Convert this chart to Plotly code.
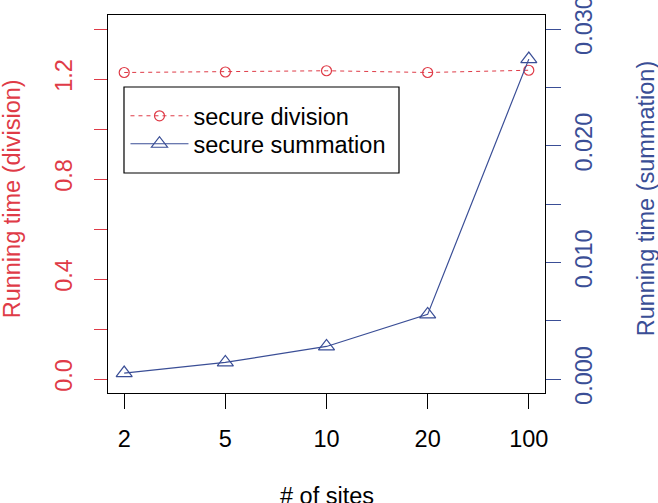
import plotly.graph_objects as go

sites = ["2", "5", "10", "20", "100"]
division_time = [1.226, 1.228, 1.233, 1.226, 1.235]
summation_time = [0.00051, 0.00142, 0.00279, 0.00554, 0.02742]

x_title = "# of sites"
y_title = "Running time (division)"
y2_title = "Running time (summation)"

RED = "#DF3B47"
BLUE = "#3A4E96"
FONT = "Liberation Sans, Arial, Helvetica, sans-serif"
FS = 23.5

fig = go.Figure()
fig.add_trace(go.Scatter(
    x=sites, y=division_time, name="secure division", mode="lines+markers",
    line=dict(color=RED, width=1, dash="4px,4px"),
    marker=dict(symbol="circle-open", size=10, color=RED, line=dict(width=1.2)),
    yaxis="y", legend="legend"))
fig.add_trace(go.Scatter(
    x=sites, y=summation_time, name="secure summation", mode="lines+markers",
    line=dict(color=BLUE, width=1.2),
    marker=dict(symbol="triangle-up-open", size=14, color=BLUE, line=dict(width=1.2)),
    yaxis="y2", legend="legend2"))

# legend frame
fig.add_shape(type="rect", xref="paper", yref="paper",
              x0=0.0366, x1=0.6659, y0=0.582, y1=0.8095,
              line=dict(color="black", width=1.2), fillcolor="white", layer="above")

leg_common = dict(xanchor="left", yanchor="top", bgcolor="rgba(0,0,0,0)",
                  borderwidth=0, itemwidth=58, font=dict(size=FS))

fig.add_annotation(text=x_title, xref="paper", yref="paper", x=0.5, y=-0.2725,
                   xanchor="center", yanchor="middle", showarrow=False,
                   font=dict(size=FS, color="black"))
fig.add_annotation(text=y_title, xref="paper", yref="paper", x=-0.2197, y=0.515,
                   xanchor="center", yanchor="middle", showarrow=False, textangle=-90,
                   font=dict(size=FS, color=RED))
fig.add_annotation(text=y2_title, xref="paper", yref="paper", x=(646 - 108) / 437, y=0.515,
                   xanchor="center", yanchor="middle", showarrow=False, textangle=-90,
                   font=dict(size=FS, color=BLUE))

fig.update_layout(
    width=658, height=503,
    margin=dict(l=108, r=113, t=15, b=110, autoexpand=False),
    paper_bgcolor="white", plot_bgcolor="white",
    font=dict(family=FONT, size=FS, color="black"),
    showlegend=True,
    legend=dict(x=0.04, y=0.791, **leg_common),
    legend2=dict(x=0.04, y=0.717, **leg_common),
    xaxis=dict(type="category", range=[-0.16, 4.16], showgrid=False, zeroline=False,
               automargin=False,
               showline=True, linecolor="black", linewidth=1.2, mirror=True,
               ticks="outside", ticklen=15, tickcolor="black", tickwidth=1.2,
               tickfont=dict(size=FS, color="black"), ticklabelstandoff=10),
    yaxis=dict(range=[-0.056, 1.456], showgrid=False, zeroline=False,
               automargin=False,
               showline=True, linecolor="black", linewidth=1.2,
               tick0=0, dtick=0.4, tickformat=".1f",
               ticks="outside", ticklen=13, tickcolor=RED, tickwidth=1.2,
               minor=dict(dtick=0.2, tick0=0, ticks="outside", ticklen=13,
                          tickcolor=RED, tickwidth=1.2, showgrid=False),
               tickangle=-90, ticklabelstandoff=13, ticklabeloverflow="allow",
               tickfont=dict(size=FS, color=RED)),
    yaxis2=dict(range=[-0.0012, 0.0312], overlaying="y", side="right",
                showgrid=False, zeroline=False, automargin=False,
                showline=True, linecolor="black", linewidth=1.2,
                tick0=0, dtick=0.01, tickformat=".3f",
                ticks="outside", ticklen=15, tickcolor=BLUE, tickwidth=1.2,
                minor=dict(dtick=0.005, tick0=0, ticks="outside", ticklen=15,
                           tickcolor=BLUE, tickwidth=1.2, showgrid=False),
                tickangle=-90, ticklabelstandoff=3, ticklabeloverflow="allow",
                tickfont=dict(size=FS, color=BLUE)),
)

fig.write_html("out.html", config={"displayModeBar": False},
               post_script="document.body.style.margin='0';document.body.style.overflow='hidden';")
